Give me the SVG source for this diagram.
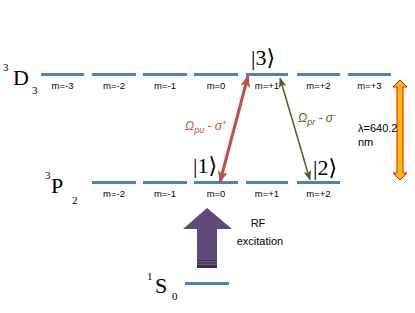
<svg xmlns="http://www.w3.org/2000/svg" width="415" height="313" viewBox="0 0 415 313">
<style>
.lvl{stroke:#4f81bd;stroke-width:3;fill:none}
.m{font-family:"Liberation Sans",Arial,sans-serif;font-size:9.5px;fill:#000;text-anchor:middle}
.big{font-family:"Liberation Serif","Times New Roman",serif;font-size:22px;fill:#000}
.sm{font-family:"Liberation Serif","Times New Roman",serif;font-size:11px;fill:#000}
.ket{font-family:"Liberation Serif","DejaVu Serif",serif;font-size:22px;fill:#000}
.lab{font-family:"Liberation Sans",Arial,sans-serif;font-size:11px;fill:#000}
</style>
<defs>
<marker id="hr" viewBox="0 0 12 10" refX="11" refY="5" markerWidth="12" markerHeight="10" markerUnits="userSpaceOnUse" orient="auto-start-reverse">
<path d="M0,0 L12,5 L0,10 L3,5 Z" fill="#c0504d"/>
</marker>
<marker id="hg" viewBox="0 0 10 8" refX="9.5" refY="4" markerWidth="10" markerHeight="8" markerUnits="userSpaceOnUse" orient="auto-start-reverse">
<path d="M0,0 L10,4 L0,8 L2.5,4 Z" fill="#4f6228"/>
</marker>
</defs>
<rect width="415" height="313" fill="#fff"/>

<g id="level-3D3">
<text class="sm" x="3" y="71">3</text>
<text class="big" x="13" y="85">D</text>
<text class="sm" x="32" y="94">3</text>
<path class="lvl" d="M41,74.5H84M92,74.5H136M143,74.5H187M194,74.5H238M246,74.5H288M297,74.5H340M348,74.5H391"/>
<text class="m" x="62.5" y="89">m=-3</text>
<text class="m" x="114" y="89">m=-2</text>
<text class="m" x="165" y="89">m=-1</text>
<text class="m" x="216" y="89">m=0</text>
<text class="m" x="267" y="89">m=+1</text>
<text class="m" x="318.5" y="89">m=+2</text>
<text class="m" x="369.5" y="89">m=+3</text>
</g>

<g id="level-3P2">
<text class="sm" x="45" y="179">3</text>
<text class="big" x="51" y="193">P</text>
<text class="sm" x="72" y="204">2</text>
<path class="lvl" d="M92,182.5H136M143,182.5H187M194,182.5H238M246,182.5H288M297,182.5H340"/>
<text class="m" x="114" y="197">m=-2</text>
<text class="m" x="165" y="197">m=-1</text>
<text class="m" x="216" y="197">m=0</text>
<text class="m" x="267" y="197">m=+1</text>
<text class="m" x="318.5" y="197">m=+2</text>
</g>

<g id="level-1S0">
<text class="sm" x="147" y="280">1</text>
<text class="big" x="155" y="293">S</text>
<text class="sm" x="172" y="300">0</text>
<path class="lvl" d="M185,283.5H229"/>
</g>

<g id="ket3"><text class="ket" x="251" y="65">|3⟩</text></g>
<g id="ket1"><text class="ket" x="193" y="173">|1⟩</text></g>
<g id="ket2"><text class="ket" x="313" y="175">|2⟩</text></g>

<g id="connectors">
<line x1="220" y1="182" x2="248" y2="76" stroke="#c0504d" stroke-width="3" marker-start="url(#hr)" marker-end="url(#hr)"/>
<line x1="310" y1="180" x2="280" y2="78" stroke="#4f6228" stroke-width="1.5" marker-start="url(#hg)" marker-end="url(#hg)"/>
<path d="M400,80 L407,87 L403,87 L403,173 L407,173 L400,180 L393,173 L397,173 L397,87 L393,87 Z" fill="#ffc000" stroke="#ff0000" stroke-width="1"/>
<g id="rf-arrow">
<path d="M207,208 L232,229 L217,229 L217,268 L197,268 L197,229 L183,229 Z" fill="#5f497a"/>
<rect x="197" y="260" width="20" height="8" fill="#3f3151"/>
<path d="M197,261.8H217M197,264.2H217" stroke="#8a78a3" stroke-width="0.8"/>
</g>
</g>

<g id="labels">
<text x="185" y="130" font-family="Liberation Sans,Arial,sans-serif" font-size="12" font-style="italic" fill="#c0504d">Ω<tspan font-size="9" dy="3">pu</tspan><tspan dy="-3"> - σ</tspan><tspan font-size="8" dy="-5">+</tspan></text>
<text x="298" y="122" font-family="Liberation Sans,Arial,sans-serif" font-size="12" font-style="italic" fill="#4f6228">Ω<tspan font-size="9" dy="3">pr</tspan><tspan dy="-3"> - σ</tspan><tspan font-size="8" dy="-5">-</tspan></text>
<text class="lab" x="358" y="132">λ=640.2</text>
<text class="lab" x="358" y="146">nm</text>
<text class="lab" x="258" y="227" text-anchor="middle">RF</text>
<text class="lab" x="260" y="245" text-anchor="middle">excitation</text>
</g>
</svg>
